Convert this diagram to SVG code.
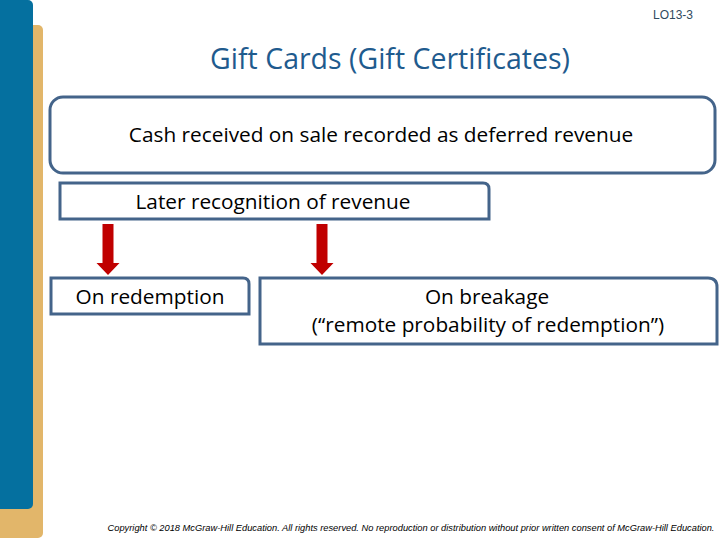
<svg xmlns="http://www.w3.org/2000/svg" width="720" height="540" viewBox="0 0 720 540">
<style>
.box{fill:#ffffff;stroke:#44648a;stroke-width:3}
.t{font-family:"Open Sans","Liberation Sans",sans-serif;font-size:20.8px;fill:#000000;text-anchor:middle}
.arrow{fill:#c00000}
</style>
<rect x="0" y="0" width="720" height="540" fill="#ffffff"/>
<g id="sidebar">
<rect x="-10" y="25" width="53" height="513" rx="5" fill="#e2b66a"/>
<rect x="-10" y="0" width="43" height="509" rx="5" fill="#05709f"/>
</g>
<text x="673" y="19" font-family="Liberation Sans, sans-serif" font-size="12" fill="#2f4a5e" text-anchor="middle">LO13-3</text>
<text x="390" y="69" font-family="Open Sans, Liberation Sans, sans-serif" font-size="28.5" fill="#1f5b8e" text-anchor="middle">Gift Cards (Gift Certificates)</text>
<g id="connectors">
<path class="arrow" d="M102.5 224 H113.5 V263 H119.5 L108 275 L96.5 263 H102.5 Z"/>
<path class="arrow" d="M316.5 224 H327.5 V263 H333.5 L322 275 L310.5 263 H316.5 Z"/>
</g>
<g id="node-cash">
<rect class="box" x="50" y="97" width="665" height="76" rx="13"/>
<text class="t" x="381" y="142">Cash received on sale recorded as deferred revenue</text>
</g>
<g id="node-later">
<path class="box" d="M60 183 H483 Q489 183 489 189 V219 H60 Z"/>
<text class="t" x="273" y="209">Later recognition of revenue</text>
</g>
<g id="node-redemption">
<path class="box" d="M51 278 H243 Q249 278 249 284 V314 H51 Z"/>
<text class="t" x="150" y="304">On redemption</text>
</g>
<g id="node-breakage">
<path class="box" d="M260 278 H708 Q717 278 717 287 V344 H260 Z"/>
<text class="t" x="487" y="304">On breakage</text>
<text class="t" x="488" y="332">(“remote probability of redemption”)</text>
</g>
<text x="411" y="531" font-family="Liberation Sans, sans-serif" font-size="9.3" font-style="italic" fill="#000000" text-anchor="middle">Copyright © 2018 McGraw-Hill Education. All rights reserved. No reproduction or distribution without prior written consent of McGraw-Hill Education.</text>
</svg>
